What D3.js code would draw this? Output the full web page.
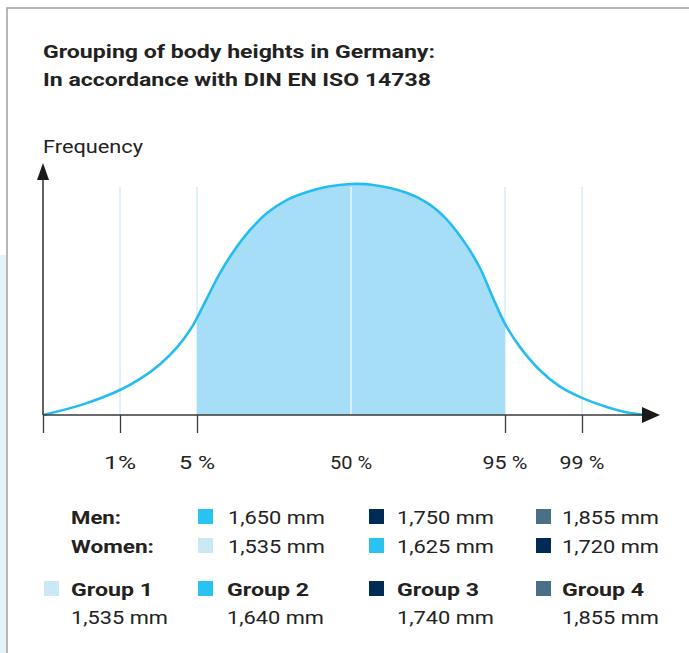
<!DOCTYPE html>
<html><head><meta charset="utf-8">
<script src="https://cdn.jsdelivr.net/npm/d3@7"></script>
<style>html,body{margin:0;padding:0;background:#fff;}svg{display:block;}</style>
</head><body>
<script>
// ---- data ----
const titleLines = ["Grouping of body heights in Germany:", "In accordance with DIN EN ISO 14738"];
const yLabel = "Frequency";
const tickPositions = [0, 1, 2, 6, 7];
const gridPositions = [1, 2, 4, 6, 7];
const tickLabelPositions = [1, 2, 4, 6, 7];
const tickLabels = ["1%", "5 %", "50 %", "95 %", "99 %"];
const shadeRange = [2, 6];
// curve (x in percentile-position units, y relative frequency %)
const curveX = [0, 0.52, 1.0, 1.26, 1.52, 1.74, 1.91, 2.0, 2.13, 2.30, 2.47, 2.69, 2.91, 3.17, 3.43, 3.69, 4.0,
                4.29, 4.73, 4.99, 5.25, 5.51, 5.68, 5.84, 6.0, 6.19, 6.45, 6.71, 7.0, 7.32, 7.62, 7.92];
const curveY = [0, 4.6, 10.8, 15.6, 22.0, 29.3, 36.8, 42.0, 50.6, 61.5, 70.6, 80.1, 87.4, 93.1, 96.5, 98.8, 100,
                99.6, 96.1, 91.8, 84.4, 73.0, 63.3, 51.0, 39.5, 29.6, 19.5, 12.4, 7.4, 3.5, 0.9, 0];
const legendRowLabels = ["Men:", "Women:"];
const menValues = ["1,650 mm", "1,750 mm", "1,855 mm"];
const menColors = ["#29c3f2", "#002b54", "#4a7088"];
const womenValues = ["1,535 mm", "1,625 mm", "1,720 mm"];
const womenColors = ["#cbe9f4", "#29c3f2", "#002b54"];
const groupNames = ["Group 1", "Group 2", "Group 3", "Group 4"];
const groupValues = ["1,535 mm", "1,640 mm", "1,740 mm", "1,855 mm"];
const groupColors = ["#cbe9f4", "#29c3f2", "#002b54", "#4a7088"];

// ---- drawing ----
const W = 689, H = 653;
const svg = d3.select("body").append("svg").attr("width", W).attr("height", H);
const font = "Roboto, 'Liberation Sans', sans-serif";
const txt = "#222";

// frame
svg.append("rect").attr("x", 0).attr("y", 255).attr("width", 6).attr("height", H - 255).attr("fill", "#e4f3f8");
svg.append("path").attr("d", `M7,${H} V8 H${W}`).attr("fill", "none").attr("stroke", "#a0a0a0").attr("stroke-width", 1.5);

// title
titleLines.forEach((t, i) => {
  svg.append("text").attr("x", 43).attr("y", 58 + i * 28).text(t)
    .attr("font-family", font).attr("font-weight", 700).attr("font-size", 18.5).attr("fill", txt)
    .attr("textLength", i === 0 ? 392 : 388).attr("lengthAdjust", "spacingAndGlyphs");
});

const x = d3.scaleLinear().domain([0, 8]).range([43, 659]);
const y = d3.scaleLinear().domain([0, 100]).range([415, 184]);
const pts = curveX.map((v, i) => [v, curveY[i]]);
const curveType = d3.curveCatmullRom.alpha(0.5);

// gridlines
svg.append("g").selectAll("line").data(gridPositions.filter(d => d !== 4)).join("line")
  .attr("x1", d => x(d)).attr("x2", d => x(d)).attr("y1", 187).attr("y2", 415)
  .attr("stroke", "#d4edf9").attr("stroke-width", 1.5);

// shaded area
svg.append("clipPath").attr("id", "shade").append("rect")
  .attr("x", x(shadeRange[0])).attr("y", 0).attr("width", x(shadeRange[1]) - x(shadeRange[0])).attr("height", H);
const area = d3.area().x(d => x(d[0])).y0(y(0)).y1(d => y(d[1])).curve(curveType);
svg.append("path").datum(pts).attr("d", area).attr("fill", "#a6def7").attr("clip-path", "url(#shade)");
// middle gridline (white over fill)
svg.append("line").attr("x1", x(4)).attr("x2", x(4)).attr("y1", 187).attr("y2", 415)
  .attr("stroke", "#e6f6fd").attr("stroke-width", 1.5);

// curve
const line = d3.line().x(d => x(d[0])).y(d => y(d[1])).curve(curveType);
svg.append("path").datum(pts).attr("d", line).attr("fill", "none").attr("stroke", "#25bdf0").attr("stroke-width", 2.6);

// axes
const axisColor = "#3a3a3a";
const xAxis = d3.axisBottom(x).tickValues(tickPositions).tickSize(18).tickFormat("");
const gx = svg.append("g").attr("transform", "translate(0,415)").call(xAxis);
gx.select(".domain").remove();
gx.selectAll(".tick line").attr("stroke", axisColor).attr("stroke-width", 1.3);
svg.append("line").attr("x1", 43).attr("x2", 648).attr("y1", 415).attr("y2", 415).attr("stroke", axisColor).attr("stroke-width", 1.6);
svg.append("path").attr("d", "M642,407 L660,415 L642,423 Z").attr("fill", "#1a1a1a");
svg.append("line").attr("x1", 43).attr("x2", 43).attr("y1", 415).attr("y2", 175).attr("stroke", axisColor).attr("stroke-width", 1.6);
svg.append("path").attr("d", "M37,180 L43,163 L49,180 Z").attr("fill", "#1a1a1a");

svg.append("text").attr("x", 43).attr("y", 153).text(yLabel)
  .attr("font-family", font).attr("font-size", 18).attr("fill", txt)
  .attr("textLength", 100).attr("lengthAdjust", "spacingAndGlyphs");

// tick labels
const tickW = [32, 36, 42, 45, 45];
svg.append("g").selectAll("text").data(tickLabelPositions).join("text")
  .attr("x", d => x(d)).attr("y", 469).attr("text-anchor", "middle")
  .text((d, i) => tickLabels[i])
  .attr("font-family", font).attr("font-size", 18).attr("fill", txt)
  .attr("textLength", (d, i) => tickW[i]).attr("lengthAdjust", "spacingAndGlyphs");

// legend
const colSq = [198, 369, 536];
const colTx = [228, 397, 562];
const sq = 15;
function label(xp, yp, t, bold, w) {
  svg.append("text").attr("x", xp).attr("y", yp).text(t)
    .attr("font-family", font).attr("font-size", 19).attr("font-weight", bold ? 700 : 400).attr("fill", txt)
    .attr("textLength", w).attr("lengthAdjust", "spacingAndGlyphs");
}
const rowY = [517, 546];
legendRowLabels.forEach((t, i) => label(71, rowY[i] + 7, t, true, i === 0 ? 50 : 83));
[menValues, womenValues].forEach((vals, r) => {
  const cols = r === 0 ? menColors : womenColors;
  vals.forEach((v, i) => {
    svg.append("rect").attr("x", colSq[i]).attr("y", rowY[r] - 8).attr("width", sq).attr("height", sq).attr("fill", cols[i]);
    label(colTx[i], rowY[r] + 7, v, false, 97);
  });
});
const gSq = [44, 198, 369, 536];
const gTx = [71, 227, 397, 562];
groupNames.forEach((g, i) => {
  svg.append("rect").attr("x", gSq[i]).attr("y", 589 - 8).attr("width", sq).attr("height", sq).attr("fill", groupColors[i]);
  label(gTx[i], 589 + 7, g, true, 82);
  label(gTx[i], 617 + 7, groupValues[i], false, 97);
});
</script>
</body></html>
